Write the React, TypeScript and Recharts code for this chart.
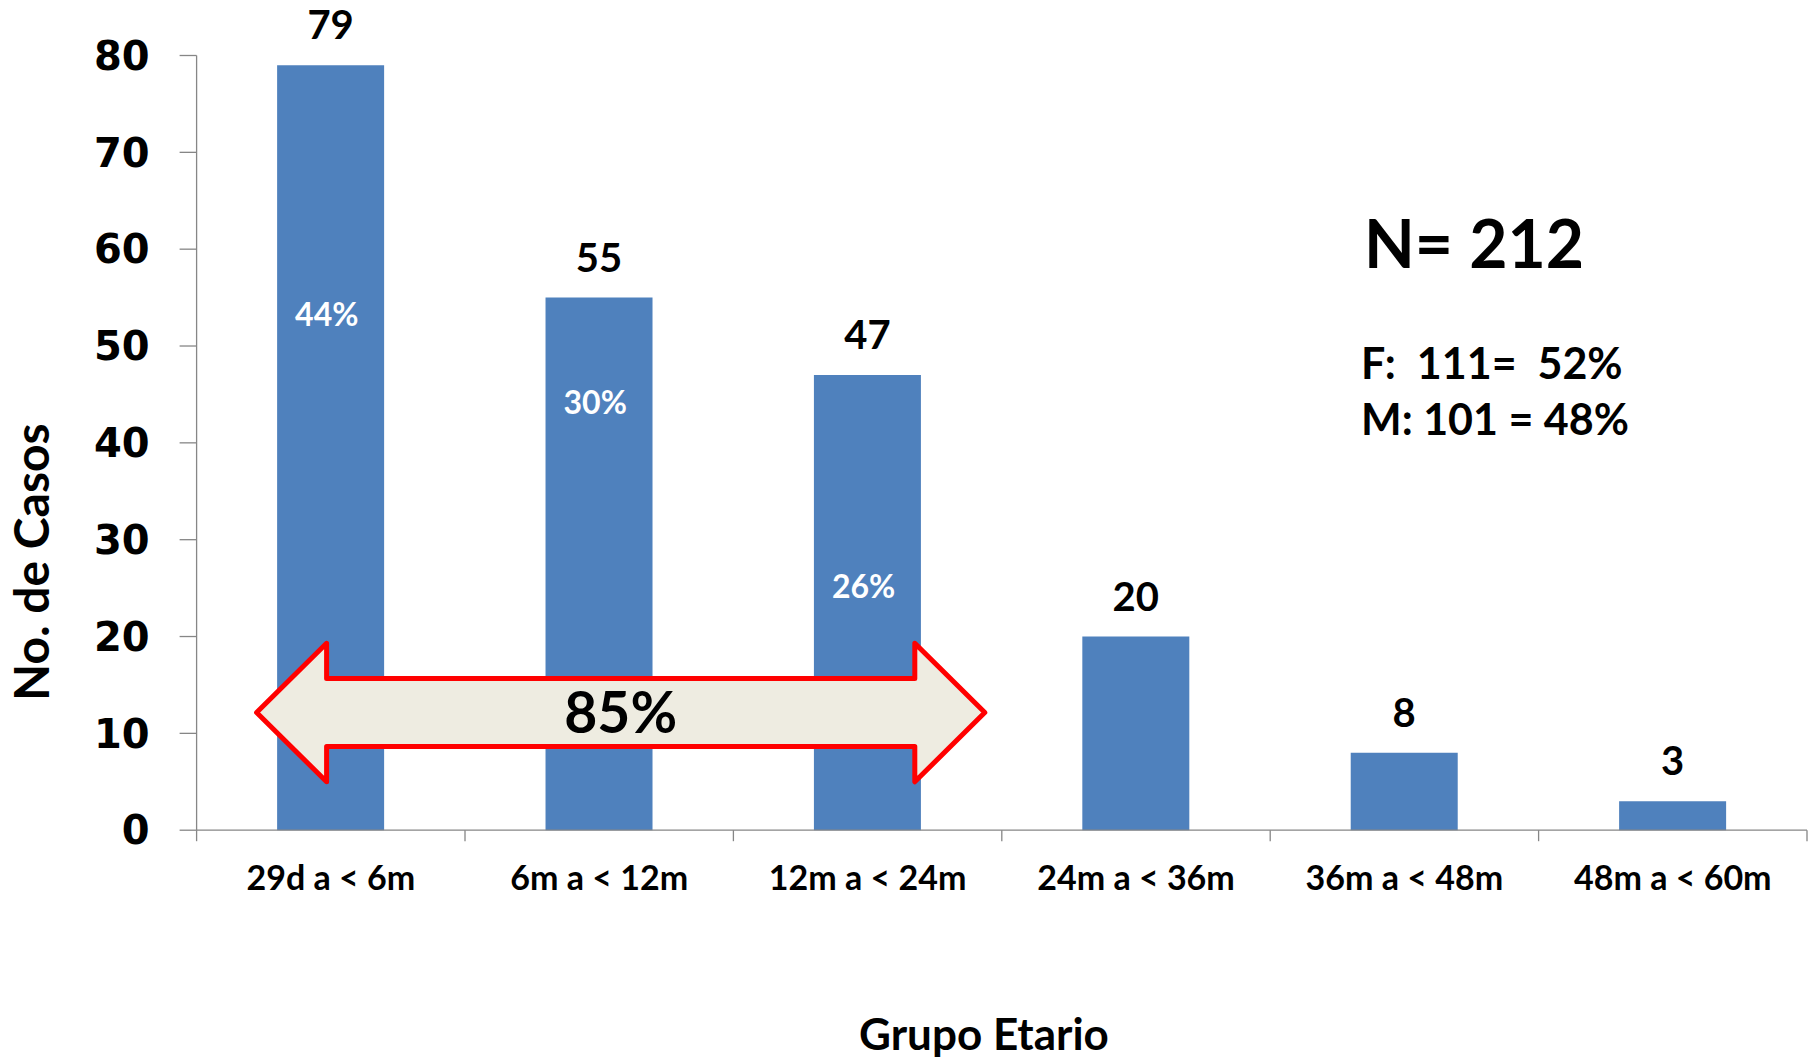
import { BarChart, Bar, XAxis, YAxis, LabelList, ReferenceArea, ReferenceDot, Label } from 'recharts';

// Casos por grupo etario
const groups = ['29d a < 6m', '6m a < 12m', '12m a < 24m', '24m a < 36m', '36m a < 48m', '48m a < 60m'];
const cases = [79, 55, 47, 20, 8, 3];
const yTicks = [0, 10, 20, 30, 40, 50, 60, 70, 80];

// porcentajes escritos dentro de las tres primeras barras (y = altura donde va el texto)
const shareGroups = ['29d a < 6m', '6m a < 12m', '12m a < 24m'];
const shareLabels = ['44%', '30%', '26%'];
const shareAnchors = [53.3, 44.2, 25.2];

const totalText = 'N= 212';
const sexLines = ['F:  111=  52%', 'M: 101 = 48%'];
const rangeText = '85%';

const chartData = groups.map((g, i) => ({ group: g, cases: cases[i] }));

const BAR_COLOR = '#4F81BD';
const AXIS_COLOR = '#868686';
const FONT = 'Lato, "Open Sans", sans-serif';

// category label plus the tick marks between categories
const GroupTick = (props: any) => {
  const { x, y, payload, index } = props;
  const off = payload?.offset ?? 0;
  return (
    <g>
      <line x1={x - off} y1={y} x2={x - off} y2={y + 11} stroke={AXIS_COLOR} strokeWidth={1.3} />
      {index === groups.length - 1 && (
        <line x1={x + off} y1={y} x2={x + off} y2={y + 11} stroke={AXIS_COLOR} strokeWidth={1.3} />
      )}
      <text x={x} y={y + 36} dy="0.71em" textAnchor="middle" fontFamily={FONT} fontWeight={700} fontSize={34} fill="#000">
        {payload.value}
      </text>
    </g>
  );
};

// double-headed arrow drawn inside the reference area rect
const RangeArrow = (props: any) => {
  const { x, y, width, height } = props;
  const left = x + 60;
  const right = x + width - 17;
  const head = 70;
  const cy = y + height / 2;
  const half = height / 2;
  const shaft = half * 0.49;
  const d = [
    `M ${left} ${cy}`,
    `L ${left + head} ${y}`,
    `L ${left + head} ${cy - shaft}`,
    `L ${right - head} ${cy - shaft}`,
    `L ${right - head} ${y}`,
    `L ${right} ${cy}`,
    `L ${right - head} ${y + height}`,
    `L ${right - head} ${cy + shaft}`,
    `L ${left + head} ${cy + shaft}`,
    `L ${left + head} ${y + height}`,
    'Z',
  ].join(' ');
  return (
    <g>
      <path d={d} fill="#EEECE1" stroke="#FF0000" strokeWidth={5} strokeLinejoin="round" />
      <text x={(left + right) / 2} y={cy} dy="0.36em" textAnchor="middle" fontFamily={FONT} fontWeight={700} fontSize={57} fill="#000">
        {rangeText}
      </text>
    </g>
  );
};

const ShareText = (label: string) => (p: any) => (
  <text x={p.cx - 4} y={p.cy} dy="0.36em" textAnchor="middle" fontFamily={FONT} fontWeight={700} fontSize={32} fill="#FFFFFF">
    {label}
  </text>
);

export default function App() {
  return (
    <div style={{ position: 'absolute', left: 0, top: 0, width: 1813, height: 1061, background: '#fff' }}>
      <BarChart
        width={1813}
        height={1061}
        data={chartData}
        margin={{ top: 55.5, right: 6, left: 0, bottom: 150.8 }}
        barCategoryGap="30%"
      >
        <XAxis
          dataKey="group"
          height={80}
          axisLine={{ stroke: AXIS_COLOR, strokeWidth: 1.3 }}
          tickLine={false}
          tickSize={0}
          tickMargin={0}
          interval={0}
          tick={<GroupTick />}
        />
        <YAxis
          width={196.6}
          domain={[0, 80]}
          ticks={yTicks}
          axisLine={{ stroke: AXIS_COLOR, strokeWidth: 1.3 }}
          tickLine={{ stroke: AXIS_COLOR, strokeWidth: 1.3 }}
          tickSize={17}
          tickMargin={30}
          tick={{ fontFamily: '"DejaVu Sans", sans-serif', fontWeight: 700, fontSize: 40, fill: '#000' }}
        >
          <Label
            content={() => (
              <text
                x={32}
                y={562}
                transform="rotate(-90 32 562)"
                dy="0.36em"
                textAnchor="middle"
                fontFamily={FONT}
                fontWeight={700}
                fontSize={48}
                fill="#000"
              >
                No. de Casos
              </text>
            )}
          />
        </YAxis>
        <Bar dataKey="cases" fill={BAR_COLOR} isAnimationActive={false}>
          <LabelList
            dataKey="cases"
            position="top"
            offset={26}
            style={{ fontFamily: FONT, fontWeight: 700, fontSize: 40, fill: '#000' }}
          />
        </Bar>
        {shareGroups.map((g, i) => (
          <ReferenceDot key={g} x={g} y={shareAnchors[i]} r={0} shape={ShareText(shareLabels[i])} zIndex={1500} />
        ))}
        <ReferenceArea
          x1={groups[0]}
          x2={groups[2]}
          y1={5}
          y2={19.3}
          shape={<RangeArrow />}
          zIndex={1600}
        />
        <text x={1364} y={268} fontFamily={FONT} fontWeight={700} fontSize={66} fill="#000">
          {totalText}
        </text>
        {sexLines.map((t, i) => (
          <text key={t} x={1361} y={379 + i * 56} fontFamily={FONT} fontWeight={700} fontSize={43} fill="#000" style={{ whiteSpace: 'pre' }}>
            {t}
          </text>
        ))}
        <text x={984} y={1050} textAnchor="middle" fontFamily={FONT} fontWeight={700} fontSize={44} fill="#000">
          Grupo Etario
        </text>
      </BarChart>
    </div>
  );
}
